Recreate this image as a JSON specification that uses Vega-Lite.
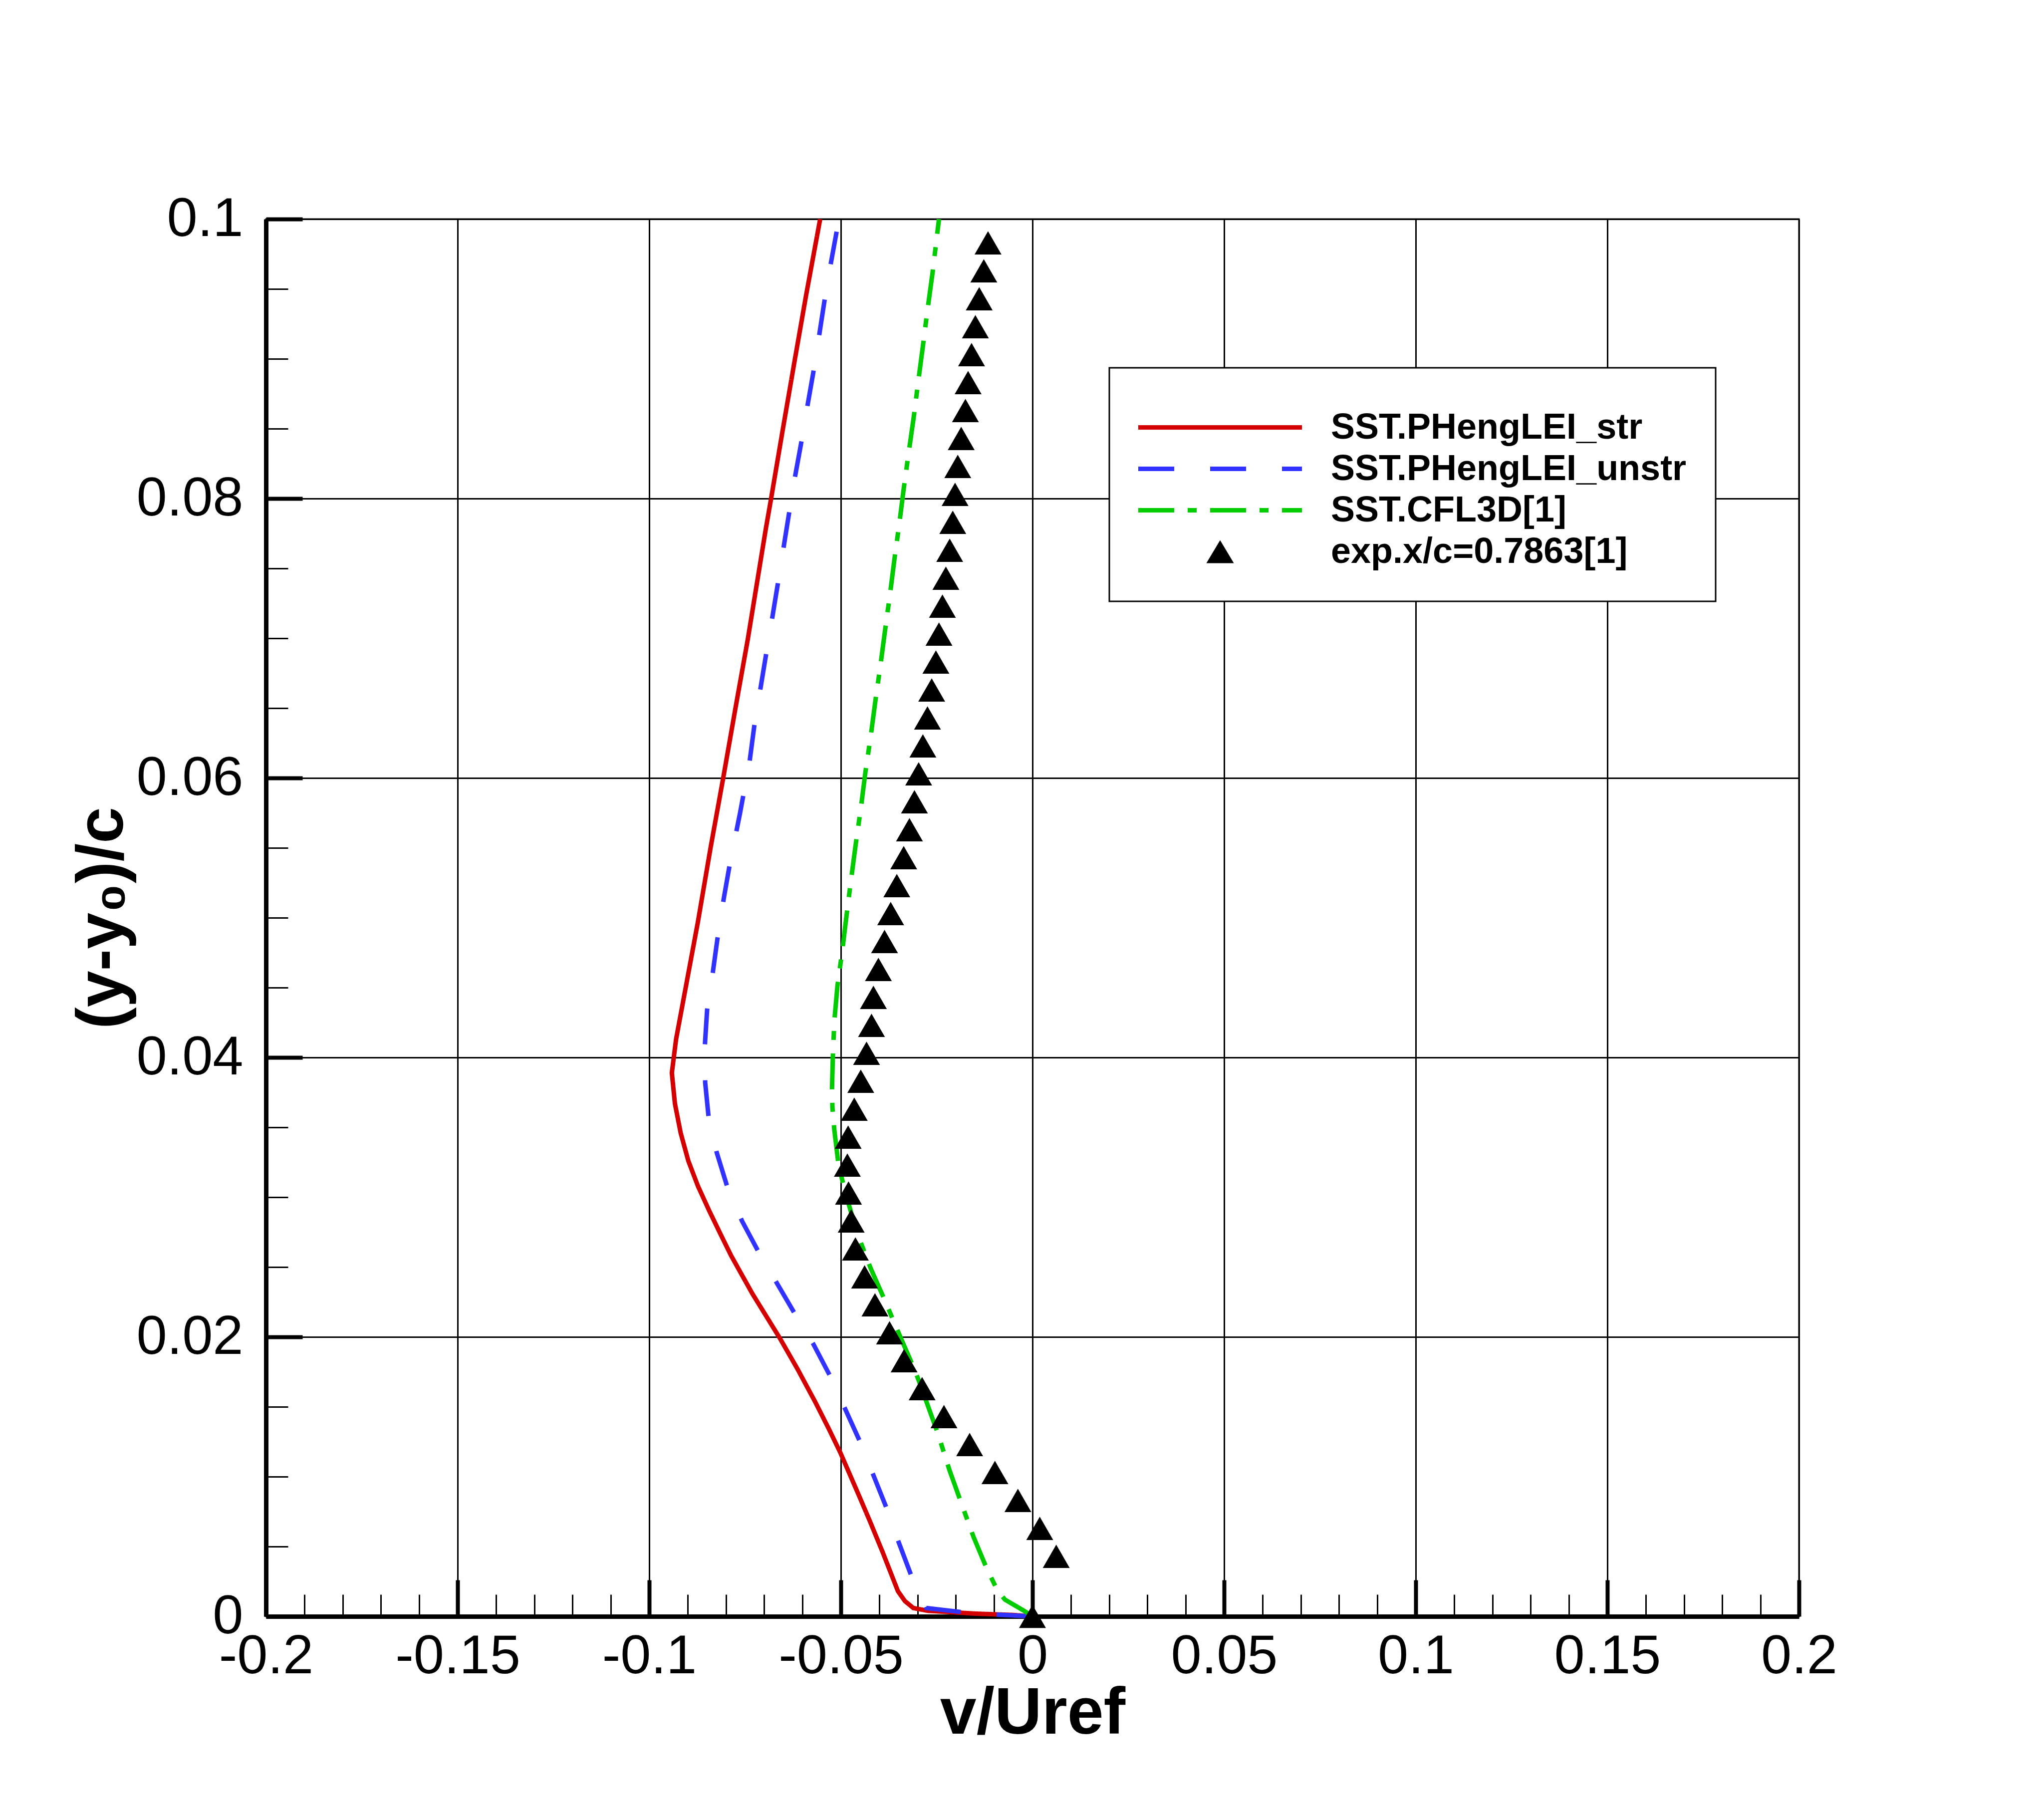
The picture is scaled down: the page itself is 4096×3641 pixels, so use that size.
{
  "$schema": "https://vega.github.io/schema/vega-lite/v6.json",
  "width": 3072,
  "height": 2800,
  "autosize": {"type": "none"},
  "padding": {"left": 533, "top": 439, "right": 491, "bottom": 402},
  "background": "white",
  "config": {
    "view": {"stroke": "black", "strokeWidth": 3},
    "font": "Liberation Sans"
  },
  "data": {"values": [
    {"series": "SST.PHengLEI_str", "v": 0, "y": 0},
    {"series": "SST.PHengLEI_str", "v": -0.005, "y": 0.0001},
    {"series": "SST.PHengLEI_str", "v": -0.015, "y": 0.0002},
    {"series": "SST.PHengLEI_str", "v": -0.0273, "y": 0.0004},
    {"series": "SST.PHengLEI_str", "v": -0.0311, "y": 0.0006},
    {"series": "SST.PHengLEI_str", "v": -0.0333, "y": 0.0011},
    {"series": "SST.PHengLEI_str", "v": -0.0351, "y": 0.0018},
    {"series": "SST.PHengLEI_str", "v": -0.0391, "y": 0.0046},
    {"series": "SST.PHengLEI_str", "v": -0.0424, "y": 0.0068},
    {"series": "SST.PHengLEI_str", "v": -0.0452, "y": 0.0086},
    {"series": "SST.PHengLEI_str", "v": -0.0501, "y": 0.0117},
    {"series": "SST.PHengLEI_str", "v": -0.0531, "y": 0.0134},
    {"series": "SST.PHengLEI_str", "v": -0.0566, "y": 0.0153},
    {"series": "SST.PHengLEI_str", "v": -0.0613, "y": 0.0177},
    {"series": "SST.PHengLEI_str", "v": -0.0659, "y": 0.0199},
    {"series": "SST.PHengLEI_str", "v": -0.0695, "y": 0.0215},
    {"series": "SST.PHengLEI_str", "v": -0.0731, "y": 0.0231},
    {"series": "SST.PHengLEI_str", "v": -0.0786, "y": 0.0258},
    {"series": "SST.PHengLEI_str", "v": -0.0813, "y": 0.0273},
    {"series": "SST.PHengLEI_str", "v": -0.0843, "y": 0.029},
    {"series": "SST.PHengLEI_str", "v": -0.0873, "y": 0.0308},
    {"series": "SST.PHengLEI_str", "v": -0.0898, "y": 0.0326},
    {"series": "SST.PHengLEI_str", "v": -0.0918, "y": 0.0346},
    {"series": "SST.PHengLEI_str", "v": -0.0933, "y": 0.0367},
    {"series": "SST.PHengLEI_str", "v": -0.0941, "y": 0.0389},
    {"series": "SST.PHengLEI_str", "v": -0.093, "y": 0.0413},
    {"series": "SST.PHengLEI_str", "v": -0.0873, "y": 0.0497},
    {"series": "SST.PHengLEI_str", "v": -0.084, "y": 0.055},
    {"series": "SST.PHengLEI_str", "v": -0.0807, "y": 0.06},
    {"series": "SST.PHengLEI_str", "v": -0.0775, "y": 0.065},
    {"series": "SST.PHengLEI_str", "v": -0.0743, "y": 0.0699},
    {"series": "SST.PHengLEI_str", "v": -0.0696, "y": 0.0778},
    {"series": "SST.PHengLEI_str", "v": -0.0682, "y": 0.08},
    {"series": "SST.PHengLEI_str", "v": -0.0653, "y": 0.0847},
    {"series": "SST.PHengLEI_str", "v": -0.0621, "y": 0.0898},
    {"series": "SST.PHengLEI_str", "v": -0.0591, "y": 0.0945},
    {"series": "SST.PHengLEI_str", "v": -0.0554, "y": 0.1},

    {"series": "SST.PHengLEI_unstr", "v": 0, "y": 0},
    {"series": "SST.PHengLEI_unstr", "v": -0.015, "y": 0.0002},
    {"series": "SST.PHengLEI_unstr", "v": -0.0277, "y": 0.0006},
    {"series": "SST.PHengLEI_unstr", "v": -0.0316, "y": 0.0029},
    {"series": "SST.PHengLEI_unstr", "v": -0.0349, "y": 0.0053},
    {"series": "SST.PHengLEI_unstr", "v": -0.038, "y": 0.0077},
    {"series": "SST.PHengLEI_unstr", "v": -0.0415, "y": 0.0101},
    {"series": "SST.PHengLEI_unstr", "v": -0.045, "y": 0.0125},
    {"series": "SST.PHengLEI_unstr", "v": -0.0488, "y": 0.0148},
    {"series": "SST.PHengLEI_unstr", "v": -0.0528, "y": 0.0172},
    {"series": "SST.PHengLEI_unstr", "v": -0.0572, "y": 0.0195},
    {"series": "SST.PHengLEI_unstr", "v": -0.0621, "y": 0.0217},
    {"series": "SST.PHengLEI_unstr", "v": -0.0668, "y": 0.0239},
    {"series": "SST.PHengLEI_unstr", "v": -0.0717, "y": 0.0262},
    {"series": "SST.PHengLEI_unstr", "v": -0.0758, "y": 0.0283},
    {"series": "SST.PHengLEI_unstr", "v": -0.0797, "y": 0.0308},
    {"series": "SST.PHengLEI_unstr", "v": -0.0824, "y": 0.0332},
    {"series": "SST.PHengLEI_unstr", "v": -0.0845, "y": 0.0357},
    {"series": "SST.PHengLEI_unstr", "v": -0.0854, "y": 0.0382},
    {"series": "SST.PHengLEI_unstr", "v": -0.0855, "y": 0.0408},
    {"series": "SST.PHengLEI_unstr", "v": -0.0849, "y": 0.0434},
    {"series": "SST.PHengLEI_unstr", "v": -0.0835, "y": 0.0459},
    {"series": "SST.PHengLEI_unstr", "v": -0.0822, "y": 0.0485},
    {"series": "SST.PHengLEI_unstr", "v": -0.0806, "y": 0.0513},
    {"series": "SST.PHengLEI_unstr", "v": -0.079, "y": 0.0538},
    {"series": "SST.PHengLEI_unstr", "v": -0.0763, "y": 0.0575},
    {"series": "SST.PHengLEI_unstr", "v": -0.0738, "y": 0.0612},
    {"series": "SST.PHengLEI_unstr", "v": -0.0726, "y": 0.0637},
    {"series": "SST.PHengLEI_unstr", "v": -0.0711, "y": 0.0662},
    {"series": "SST.PHengLEI_unstr", "v": -0.0696, "y": 0.0687},
    {"series": "SST.PHengLEI_unstr", "v": -0.068, "y": 0.0713},
    {"series": "SST.PHengLEI_unstr", "v": -0.0665, "y": 0.0738},
    {"series": "SST.PHengLEI_unstr", "v": -0.065, "y": 0.0764},
    {"series": "SST.PHengLEI_unstr", "v": -0.0636, "y": 0.0788},
    {"series": "SST.PHengLEI_unstr", "v": -0.062, "y": 0.0815},
    {"series": "SST.PHengLEI_unstr", "v": -0.0604, "y": 0.0839},
    {"series": "SST.PHengLEI_unstr", "v": -0.0588, "y": 0.0865},
    {"series": "SST.PHengLEI_unstr", "v": -0.0572, "y": 0.089},
    {"series": "SST.PHengLEI_unstr", "v": -0.0557, "y": 0.0916},
    {"series": "SST.PHengLEI_unstr", "v": -0.0543, "y": 0.0941},
    {"series": "SST.PHengLEI_unstr", "v": -0.0527, "y": 0.0967},
    {"series": "SST.PHengLEI_unstr", "v": -0.0511, "y": 0.0991},

    {"series": "SST.CFL3D[1]", "v": 0, "y": 0},
    {"series": "SST.CFL3D[1]", "v": -0.0022, "y": 0.0004},
    {"series": "SST.CFL3D[1]", "v": -0.0072, "y": 0.0012},
    {"series": "SST.CFL3D[1]", "v": -0.0092, "y": 0.0019},
    {"series": "SST.CFL3D[1]", "v": -0.0119, "y": 0.0034},
    {"series": "SST.CFL3D[1]", "v": -0.0154, "y": 0.0057},
    {"series": "SST.CFL3D[1]", "v": -0.0187, "y": 0.0082},
    {"series": "SST.CFL3D[1]", "v": -0.0217, "y": 0.0105},
    {"series": "SST.CFL3D[1]", "v": -0.0247, "y": 0.0131},
    {"series": "SST.CFL3D[1]", "v": -0.0297, "y": 0.0169},
    {"series": "SST.CFL3D[1]", "v": -0.031, "y": 0.0178},
    {"series": "SST.CFL3D[1]", "v": -0.0348, "y": 0.0202},
    {"series": "SST.CFL3D[1]", "v": -0.0385, "y": 0.0226},
    {"series": "SST.CFL3D[1]", "v": -0.0422, "y": 0.0249},
    {"series": "SST.CFL3D[1]", "v": -0.0457, "y": 0.0274},
    {"series": "SST.CFL3D[1]", "v": -0.0487, "y": 0.0302},
    {"series": "SST.CFL3D[1]", "v": -0.0506, "y": 0.0323},
    {"series": "SST.CFL3D[1]", "v": -0.0517, "y": 0.0348},
    {"series": "SST.CFL3D[1]", "v": -0.0522, "y": 0.0364},
    {"series": "SST.CFL3D[1]", "v": -0.0523, "y": 0.0378},
    {"series": "SST.CFL3D[1]", "v": -0.0521, "y": 0.04},
    {"series": "SST.CFL3D[1]", "v": -0.0517, "y": 0.0426},
    {"series": "SST.CFL3D[1]", "v": -0.0509, "y": 0.0451},
    {"series": "SST.CFL3D[1]", "v": -0.0496, "y": 0.0477},
    {"series": "SST.CFL3D[1]", "v": -0.0485, "y": 0.0502},
    {"series": "SST.CFL3D[1]", "v": -0.0473, "y": 0.0528},
    {"series": "SST.CFL3D[1]", "v": -0.0461, "y": 0.0553},
    {"series": "SST.CFL3D[1]", "v": -0.0448, "y": 0.0578},
    {"series": "SST.CFL3D[1]", "v": -0.0436, "y": 0.0604},
    {"series": "SST.CFL3D[1]", "v": -0.0422, "y": 0.063},
    {"series": "SST.CFL3D[1]", "v": -0.041, "y": 0.0655},
    {"series": "SST.CFL3D[1]", "v": -0.0397, "y": 0.068},
    {"series": "SST.CFL3D[1]", "v": -0.0385, "y": 0.0705},
    {"series": "SST.CFL3D[1]", "v": -0.0372, "y": 0.0731},
    {"series": "SST.CFL3D[1]", "v": -0.036, "y": 0.0757},
    {"series": "SST.CFL3D[1]", "v": -0.0347, "y": 0.0783},
    {"series": "SST.CFL3D[1]", "v": -0.0336, "y": 0.0807},
    {"series": "SST.CFL3D[1]", "v": -0.0323, "y": 0.0833},
    {"series": "SST.CFL3D[1]", "v": -0.031, "y": 0.0858},
    {"series": "SST.CFL3D[1]", "v": -0.0298, "y": 0.0884},
    {"series": "SST.CFL3D[1]", "v": -0.0286, "y": 0.0909},
    {"series": "SST.CFL3D[1]", "v": -0.0274, "y": 0.0935},
    {"series": "SST.CFL3D[1]", "v": -0.0261, "y": 0.0961},
    {"series": "SST.CFL3D[1]", "v": -0.0244, "y": 0.1},

    {"series": "exp.x/c=0.7863[1]", "v": 0, "y": 0},
    {"series": "exp.x/c=0.7863[1]", "v": 0.0062, "y": 0.0043},
    {"series": "exp.x/c=0.7863[1]", "v": 0.0019, "y": 0.0063},
    {"series": "exp.x/c=0.7863[1]", "v": -0.0038, "y": 0.0083},
    {"series": "exp.x/c=0.7863[1]", "v": -0.0098, "y": 0.0103},
    {"series": "exp.x/c=0.7863[1]", "v": -0.0164, "y": 0.0123},
    {"series": "exp.x/c=0.7863[1]", "v": -0.0231, "y": 0.0143},
    {"series": "exp.x/c=0.7863[1]", "v": -0.0288, "y": 0.0163},
    {"series": "exp.x/c=0.7863[1]", "v": -0.0335, "y": 0.0183},
    {"series": "exp.x/c=0.7863[1]", "v": -0.0373, "y": 0.0203},
    {"series": "exp.x/c=0.7863[1]", "v": -0.0411, "y": 0.0223},
    {"series": "exp.x/c=0.7863[1]", "v": -0.0438, "y": 0.0243},
    {"series": "exp.x/c=0.7863[1]", "v": -0.0462, "y": 0.0263},
    {"series": "exp.x/c=0.7863[1]", "v": -0.0473, "y": 0.0283},
    {"series": "exp.x/c=0.7863[1]", "v": -0.048, "y": 0.0303},
    {"series": "exp.x/c=0.7863[1]", "v": -0.0483, "y": 0.0323},
    {"series": "exp.x/c=0.7863[1]", "v": -0.0481, "y": 0.0343},
    {"series": "exp.x/c=0.7863[1]", "v": -0.0465, "y": 0.0363},
    {"series": "exp.x/c=0.7863[1]", "v": -0.0448, "y": 0.0383},
    {"series": "exp.x/c=0.7863[1]", "v": -0.0433, "y": 0.0403},
    {"series": "exp.x/c=0.7863[1]", "v": -0.042, "y": 0.0423},
    {"series": "exp.x/c=0.7863[1]", "v": -0.0415, "y": 0.0443},
    {"series": "exp.x/c=0.7863[1]", "v": -0.0402, "y": 0.0463},
    {"series": "exp.x/c=0.7863[1]", "v": -0.0386, "y": 0.0483},
    {"series": "exp.x/c=0.7863[1]", "v": -0.037, "y": 0.0503},
    {"series": "exp.x/c=0.7863[1]", "v": -0.0354, "y": 0.0523},
    {"series": "exp.x/c=0.7863[1]", "v": -0.0336, "y": 0.0543},
    {"series": "exp.x/c=0.7863[1]", "v": -0.0321, "y": 0.0563},
    {"series": "exp.x/c=0.7863[1]", "v": -0.0308, "y": 0.0583},
    {"series": "exp.x/c=0.7863[1]", "v": -0.0297, "y": 0.0603},
    {"series": "exp.x/c=0.7863[1]", "v": -0.0286, "y": 0.0623},
    {"series": "exp.x/c=0.7863[1]", "v": -0.0274, "y": 0.0643},
    {"series": "exp.x/c=0.7863[1]", "v": -0.0263, "y": 0.0663},
    {"series": "exp.x/c=0.7863[1]", "v": -0.0252, "y": 0.0683},
    {"series": "exp.x/c=0.7863[1]", "v": -0.0244, "y": 0.0703},
    {"series": "exp.x/c=0.7863[1]", "v": -0.0235, "y": 0.0723},
    {"series": "exp.x/c=0.7863[1]", "v": -0.0226, "y": 0.0743},
    {"series": "exp.x/c=0.7863[1]", "v": -0.0216, "y": 0.0763},
    {"series": "exp.x/c=0.7863[1]", "v": -0.0208, "y": 0.0783},
    {"series": "exp.x/c=0.7863[1]", "v": -0.0202, "y": 0.0803},
    {"series": "exp.x/c=0.7863[1]", "v": -0.0195, "y": 0.0823},
    {"series": "exp.x/c=0.7863[1]", "v": -0.0186, "y": 0.0843},
    {"series": "exp.x/c=0.7863[1]", "v": -0.0175, "y": 0.0863},
    {"series": "exp.x/c=0.7863[1]", "v": -0.0168, "y": 0.0883},
    {"series": "exp.x/c=0.7863[1]", "v": -0.0159, "y": 0.0903},
    {"series": "exp.x/c=0.7863[1]", "v": -0.0149, "y": 0.0923},
    {"series": "exp.x/c=0.7863[1]", "v": -0.0139, "y": 0.0943},
    {"series": "exp.x/c=0.7863[1]", "v": -0.0127, "y": 0.0963},
    {"series": "exp.x/c=0.7863[1]", "v": -0.0116, "y": 0.0983}
  ]},
  "resolve": {"axis": {"x": "independent", "y": "independent"}},
  "layer": [
    {
      "transform": [{"filter": "datum.series !== 'exp.x/c=0.7863[1]'"}],
      "mark": {"type": "line", "strokeWidth": 9, "strokeCap": "butt"},
      "encoding": {
        "x": {
          "field": "v", "type": "quantitative",
          "scale": {"domain": [-0.2, 0.2], "nice": false, "zero": false},
          "axis": {
            "orient": "bottom",
            "values": [-0.2, -0.15, -0.1, -0.05, 0, 0.05, 0.1, 0.15, 0.2],
            "labelExpr": "'' + datum.value",
            "labelFont": "Liberation Sans", "labelFontSize": 110, "labelColor": "black", "labelLimit": 1000,
            "labelPadding": 99, "labelFlush": false, "labelOverlap": false, "labelBound": false,
            "tickSize": -73, "tickWidth": 8, "tickColor": "black",
            "domainColor": "black", "domainWidth": 9,
            "grid": true, "gridColor": "black", "gridWidth": 3, "gridOpacity": 1,
            "title": "v/Uref", "titleFont": "Liberation Sans", "titleFontSize": 131,
            "titleFontWeight": "bold", "titleColor": "black", "titlePadding": -4
          }
        },
        "y": {
          "field": "y", "type": "quantitative",
          "scale": {"domain": [0, 0.1], "nice": false, "zero": false},
          "axis": {
            "orient": "left",
            "values": [0, 0.02, 0.04, 0.06, 0.08, 0.1],
            "labelExpr": "'' + datum.value",
            "labelFont": "Liberation Sans", "labelFontSize": 110, "labelColor": "black", "labelLimit": 1000,
            "labelPadding": 119, "labelFlush": false, "labelOverlap": false, "labelBound": false,
            "tickSize": -73, "tickWidth": 8, "tickColor": "black",
            "domainColor": "black", "domainWidth": 9,
            "grid": true, "gridColor": "black", "gridWidth": 3, "gridOpacity": 1,
            "title": "(y-y₀)/c", "titleFont": "Liberation Sans", "titleFontSize": 131,
            "titleFontWeight": "bold", "titleColor": "black", "titlePadding": 60
          }
        },
        "order": {"field": "y", "sort": "ascending"},
        "color": {
          "field": "series", "type": "nominal",
          "scale": {
            "domain": ["SST.PHengLEI_str", "SST.PHengLEI_unstr", "SST.CFL3D[1]", "exp.x/c=0.7863[1]"],
            "range": ["#d40000", "#3232ff", "#00cc00", "#000000"]
          },
          "legend": {
            "orient": "none", "legendX": 1690, "legendY": 298,
            "title": " ", "titleFontSize": 20, "titlePadding": 0,
            "symbolType": "stroke", "symbolSize": 107584, "symbolStrokeWidth": 9,
            "symbolOffset": 128,
            "labelFont": "Liberation Sans", "labelFontWeight": "bold", "labelFontSize": 72,
            "labelColor": "black", "labelLimit": 3000, "labelOffset": 186,
            "clipHeight": 83, "rowPadding": 0, "padding": 58,
            "strokeColor": "black", "fillColor": "white",
            "encode": {
              "legend": {"update": {"strokeWidth": {"value": 3}}},
              "symbols": {"update": {
                "shape": {"signal": "datum.value === 'exp.x/c=0.7863[1]' ? 'M0,-0.14L0.168,0.14L-0.168,0.14Z' : 'stroke'"},
                "fill": {"signal": "datum.value === 'exp.x/c=0.7863[1]' ? 'black' : 'transparent'"},
                "strokeWidth": {"signal": "datum.value === 'exp.x/c=0.7863[1]' ? 0 : 9"}
              }}
            }
          }
        },
        "strokeDash": {
          "field": "series", "type": "nominal",
          "scale": {
            "domain": ["SST.PHengLEI_str", "SST.PHengLEI_unstr", "SST.CFL3D[1]", "exp.x/c=0.7863[1]"],
            "range": [[1, 0], [72, 72], [72, 27, 18, 27], [1, 0]]
          },
          "legend": {
            "orient": "none", "legendX": 1690, "legendY": 298,
            "title": " ", "titleFontSize": 20, "titlePadding": 0,
            "symbolType": "stroke", "symbolSize": 107584, "symbolStrokeWidth": 9,
            "symbolOffset": 128,
            "labelFont": "Liberation Sans", "labelFontWeight": "bold", "labelFontSize": 72,
            "labelColor": "black", "labelLimit": 3000, "labelOffset": 186,
            "clipHeight": 83, "rowPadding": 0, "padding": 58,
            "strokeColor": "black", "fillColor": "white",
            "encode": {
              "legend": {"update": {"strokeWidth": {"value": 3}}},
              "symbols": {"update": {
                "shape": {"signal": "datum.value === 'exp.x/c=0.7863[1]' ? 'M0,-0.14L0.168,0.14L-0.168,0.14Z' : 'stroke'"},
                "fill": {"signal": "datum.value === 'exp.x/c=0.7863[1]' ? 'black' : 'transparent'"},
                "strokeWidth": {"signal": "datum.value === 'exp.x/c=0.7863[1]' ? 0 : 9"}
              }}
            }
          }
        }
      }
    },
    {
      "transform": [{"filter": "datum.series === 'exp.x/c=0.7863[1]'"}],
      "mark": {"type": "point", "shape": "triangle-up", "filled": true, "size": 2900, "strokeWidth": 0, "opacity": 1},
      "encoding": {
        "x": {
          "field": "v", "type": "quantitative",
          "scale": {"domain": [-0.2, 0.2], "nice": false, "zero": false},
          "axis": {
            "orient": "bottom",
            "values": [-0.19, -0.18, -0.17, -0.16, -0.14, -0.13, -0.12, -0.11, -0.09, -0.08, -0.07, -0.06, -0.04, -0.03, -0.02, -0.01, 0.01, 0.02, 0.03, 0.04, 0.06, 0.07, 0.08, 0.09, 0.11, 0.12, 0.13, 0.14, 0.16, 0.17, 0.18, 0.19],
            "labels": false, "grid": false, "domain": false,
            "tickSize": -44, "tickWidth": 3, "tickColor": "black", "title": null
          }
        },
        "y": {
          "field": "y", "type": "quantitative",
          "scale": {"domain": [0, 0.1], "nice": false, "zero": false},
          "axis": {
            "orient": "left",
            "values": [0.005, 0.01, 0.015, 0.025, 0.03, 0.035, 0.045, 0.05, 0.055, 0.065, 0.07, 0.075, 0.085, 0.09, 0.095],
            "labels": false, "grid": false, "domain": false,
            "tickSize": -44, "tickWidth": 3, "tickColor": "black", "title": null
          }
        },
        "color": {
          "field": "series", "type": "nominal",
          "scale": {
            "domain": ["SST.PHengLEI_str", "SST.PHengLEI_unstr", "SST.CFL3D[1]", "exp.x/c=0.7863[1]"],
            "range": ["#d40000", "#3232ff", "#00cc00", "#000000"]
          },
          "legend": null
        }
      }
    }
  ]
}
